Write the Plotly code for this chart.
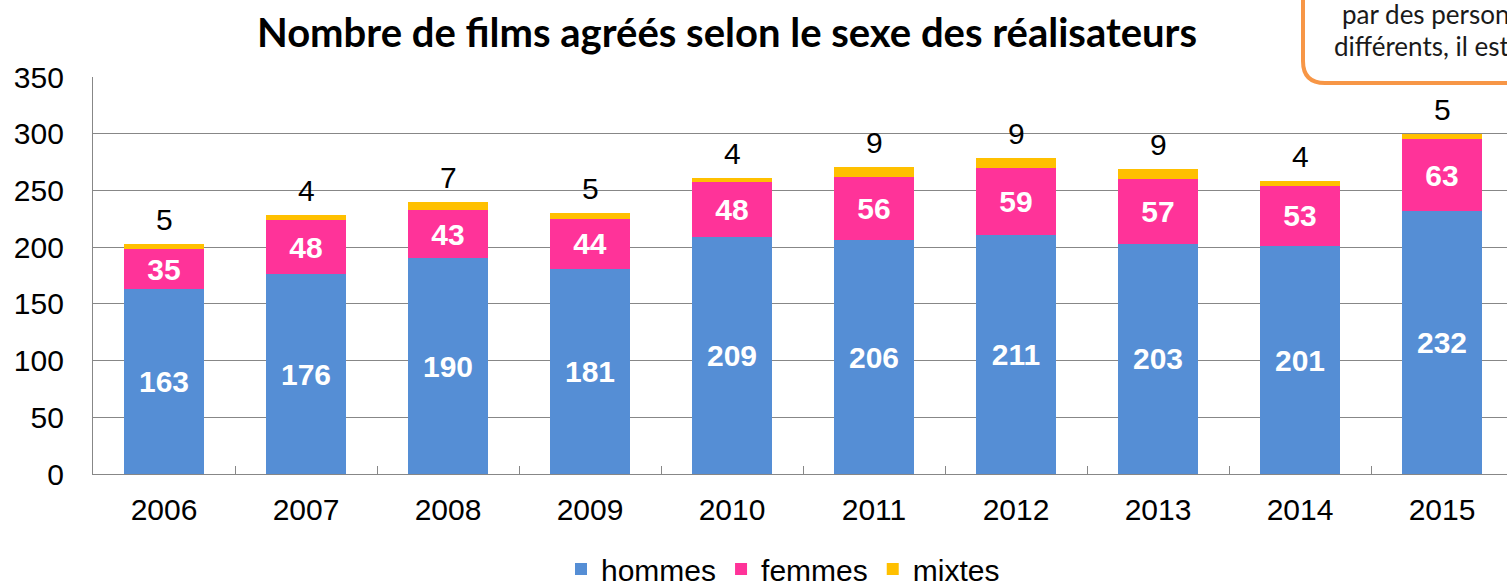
import plotly.graph_objects as go

years = ["2006", "2007", "2008", "2009", "2010", "2011", "2012", "2013", "2014", "2015"]
hommes = [163, 176, 190, 181, 209, 206, 211, 203, 201, 232]
femmes = [35, 48, 43, 44, 48, 56, 59, 57, 53, 63]
mixtes = [5, 4, 7, 5, 4, 9, 9, 9, 4, 5]
y_ticks = [0, 50, 100, 150, 200, 250, 300, 350]

W, H = 1507, 587
L, R, T, B = 93, 1507, 77, 474

def px2x(p):
    return (p - L) / (R - L)

def py2y(p):
    return (B - p) / (B - T)

BLUE = "#558ED5"
PINK = "#FF3399"
YELLOW = "#FFC000"
GRID = "#878787"
FS = 30

fig = go.Figure()
fig.add_trace(go.Bar(
    x=years, y=hommes, name="hommes", marker_color=BLUE, width=0.56,
    text=[str(v) for v in hommes], textposition="inside", insidetextanchor="middle",
    textfont=dict(family="Liberation Sans", size=FS, color="white", weight="bold"),
    constraintext="none", marker_line_width=0,
))
fig.add_trace(go.Bar(
    x=years, y=femmes, name="femmes", marker_color=PINK, width=0.56,
    text=[str(v) for v in femmes], textposition="inside", insidetextanchor="middle",
    textfont=dict(family="Liberation Sans", size=FS, color="white", weight="bold"),
    constraintext="none", marker_line_width=0,
))
fig.add_trace(go.Bar(
    x=years, y=mixtes, name="mixtes", marker_color=YELLOW, width=0.56,
    marker_line_width=0, textposition="none",
))

totals = [h + f + m for h, f, m in zip(hommes, femmes, mixtes)]
annotations = []
for i, (tot, m) in enumerate(zip(totals, mixtes)):
    annotations.append(dict(
        x=i, y=tot, xref="x", yref="y", text=str(m), showarrow=False,
        yanchor="bottom", yshift=6,
        font=dict(family="Liberation Sans", size=FS, color="black"),
    ))

# partially visible note box (top-right)
r_px = 22
x0, x1 = 1303, 1560
yb, yt = 83, -40
rx = r_px / (R - L)
ry = r_px / (B - T)
path = (
    f"M {px2x(x0)},{py2y(yt)} "
    f"L {px2x(x0)},{py2y(yb) + ry} "
    f"Q {px2x(x0)},{py2y(yb)} {px2x(x0) + rx},{py2y(yb)} "
    f"L {px2x(x1)},{py2y(yb)} "
    f"L {px2x(x1)},{py2y(yt)} Z"
)
shapes = [dict(type="path", path=path, xref="paper", yref="paper",
               line=dict(color="#F79646", width=4), fillcolor="white", layer="above")]

annotations.append(dict(
    x=px2x(1340), y=py2y(14), xref="paper", yref="paper", text="par des personnes",
    showarrow=False, xanchor="left", yanchor="middle",
    font=dict(family="Lato", size=26, color="#1a1a1a"),
))
annotations.append(dict(
    x=px2x(1332), y=py2y(46), xref="paper", yref="paper", text="différents, il est",
    showarrow=False, xanchor="left", yanchor="middle",
    font=dict(family="Lato", size=26, color="#1a1a1a"),
))

fig.update_layout(
    width=W, height=H,
    margin=dict(l=L, r=W - R, t=T, b=H - B, pad=0),
    barmode="stack",
    plot_bgcolor="white", paper_bgcolor="white",
    title=dict(text="<b>Nombre de films agréés selon le sexe des réalisateurs</b>",
               x=727 / W, xref="container", xanchor="center",
               y=1 - 33 / H, yref="container", yanchor="middle",
               font=dict(family="Lato", size=40, color="black")),
    showlegend=True,
    legend=dict(orientation="h", x=px2x(783), xanchor="center",
                yref="container", y=1 - 569 / H, yanchor="middle",
                font=dict(family="Liberation Sans", size=FS, color="black"),
                itemwidth=30, tracegroupgap=0, traceorder="normal"),
    annotations=annotations,
    shapes=shapes,
    xaxis=dict(type="category", range=[-0.5, -0.5 + (R - L) / 142.0],
               automargin=False,
               showline=True, linecolor=GRID, linewidth=1.3,
               ticks="inside", ticklen=8, tickcolor=GRID, tickson="boundaries",
               tickfont=dict(family="Liberation Sans", size=FS, color="black"),
               ticklabelstandoff=9, showgrid=False),
    yaxis=dict(range=[0, 350], tickvals=y_ticks, showgrid=True, gridcolor=GRID, gridwidth=1.3,
               automargin=False,
               showline=True, linecolor=GRID, linewidth=1.3, zeroline=False,
               tickfont=dict(family="Liberation Sans", size=FS, color="black"),
               ticklabelstandoff=22, ticks=""),
    bargap=0.44,
)

fig.write_html(
    "out.html",
    config={"displayModeBar": False},
    post_script="document.body.style.margin='0';document.body.style.overflow='hidden';",
)
